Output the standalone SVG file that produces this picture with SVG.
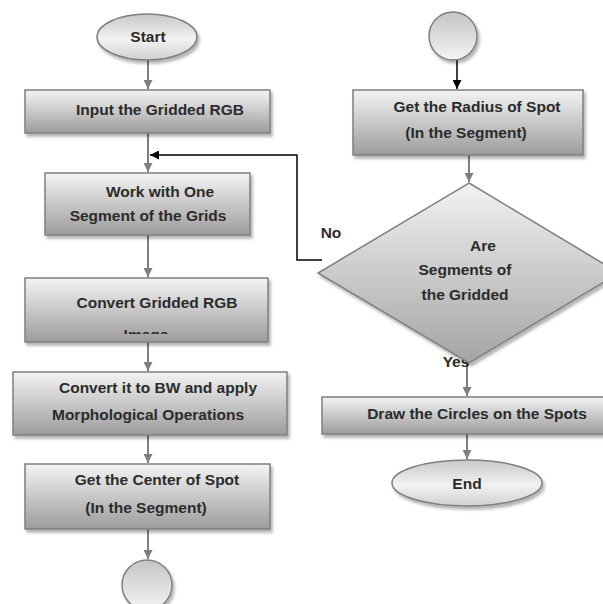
<svg xmlns="http://www.w3.org/2000/svg" width="603" height="604" viewBox="0 0 603 604">
<defs>
<linearGradient id="gBox" x1="0" y1="0" x2="0" y2="1">
<stop offset="0" stop-color="#f4f4f4"/>
<stop offset="1" stop-color="#9c9c9c"/>
</linearGradient>
<linearGradient id="gEll" x1="0" y1="0" x2="0" y2="1">
<stop offset="0" stop-color="#c8c8c8"/>
<stop offset="0.55" stop-color="#f2f2f2"/>
<stop offset="1" stop-color="#d0d0d0"/>
</linearGradient>
<linearGradient id="gCirc" x1="0" y1="0" x2="0" y2="1">
<stop offset="0" stop-color="#c4c4c4"/>
<stop offset="1" stop-color="#f4f4f4"/>
</linearGradient>
<linearGradient id="gDia" x1="0" y1="0" x2="0" y2="1">
<stop offset="0" stop-color="#f2f2f2"/>
<stop offset="1" stop-color="#a4a4a4"/>
</linearGradient>
<filter id="sh" x="-10%" y="-10%" width="130%" height="140%">
<feDropShadow dx="2" dy="3" stdDeviation="1.5" flood-color="#000" flood-opacity="0.3"/>
</filter>
<marker id="ag" viewBox="0 0 10 10" refX="10" refY="5" markerWidth="9" markerHeight="9" markerUnits="userSpaceOnUse" orient="auto">
<path d="M0,0 L10,5 L0,10 z" fill="#7f7f7f"/>
</marker>
<marker id="ab" viewBox="0 0 10 10" refX="10" refY="5" markerWidth="9" markerHeight="9" markerUnits="userSpaceOnUse" orient="auto">
<path d="M0,0 L10,5 L0,10 z" fill="#000"/>
</marker>
<clipPath id="clipImg"><rect x="25" y="278" width="243" height="56"/></clipPath>
</defs>
<style>
.box{fill:url(#gBox);stroke:#7f7f7f;stroke-width:1.5;filter:url(#sh)}
.ell{fill:url(#gEll);stroke:#7f7f7f;stroke-width:1.5;filter:url(#sh)}
.circ{fill:url(#gCirc);stroke:#7f7f7f;stroke-width:1.5;filter:url(#sh)}
.t{font-family:"Liberation Sans",Arial,sans-serif;font-size:15.5px;font-weight:bold;fill:#2b2b2b;text-anchor:middle}
.cg{stroke:#7f7f7f;stroke-width:2;fill:none;marker-end:url(#ag)}
.cb{stroke:#000;stroke-width:1.5;fill:none;marker-end:url(#ab)}
</style>

<g id="connectors">
<line class="cg" x1="148" y1="60" x2="148" y2="89"/>
<line class="cg" x1="148" y1="133" x2="148" y2="172"/>
<line class="cg" x1="148" y1="235" x2="148" y2="277"/>
<line class="cg" x1="148" y1="342" x2="148" y2="371"/>
<line class="cg" x1="148" y1="435" x2="148" y2="463"/>
<line class="cg" x1="148" y1="529" x2="148" y2="559"/>
<line class="cb" x1="457" y1="60" x2="457" y2="89"/>
<line class="cg" x1="469" y1="155" x2="469" y2="182"/>
<line class="cg" x1="467" y1="362" x2="467" y2="396"/>
<line class="cg" x1="467" y1="434" x2="467" y2="459"/>
<polyline class="cb" points="322,260 297,260 297,155 150,155"/>
</g>

<g id="start">
<ellipse class="ell" cx="147" cy="37" rx="50" ry="23"/>
<text class="t" x="148" y="42">Start</text>
</g>

<g id="input">
<rect class="box" x="25" y="90" width="245" height="43"/>
<text class="t" x="160" y="115">Input the Gridded RGB</text>
</g>

<g id="work">
<rect class="box" x="45" y="173" width="205" height="62"/>
<text class="t" x="160" y="197">Work with One</text>
<text class="t" x="148" y="221">Segment of the Grids</text>
</g>

<g id="convert">
<rect class="box" x="25" y="278" width="243" height="64"/>
<text class="t" x="157" y="308">Convert Gridded RGB</text>
<text class="t" x="146" y="340" clip-path="url(#clipImg)">Image</text>
</g>

<g id="bw">
<rect class="box" x="13" y="372" width="274" height="63"/>
<text class="t" x="158" y="393">Convert it to BW and apply</text>
<text class="t" x="148" y="420">Morphological Operations</text>
</g>

<g id="center">
<rect class="box" x="25" y="464" width="245" height="65"/>
<text class="t" x="157" y="485">Get the Center of Spot</text>
<text class="t" x="146" y="513">(In the Segment)</text>
</g>

<g id="connector-a">
<circle class="circ" cx="147" cy="585" r="25"/>
</g>

<g id="connector-b">
<circle class="circ" cx="453" cy="36" r="24"/>
</g>

<g id="radius">
<rect class="box" x="353" y="90" width="230" height="65"/>
<text class="t" x="477" y="112">Get the Radius of Spot</text>
<text class="t" x="466" y="138">(In the Segment)</text>
</g>

<g id="labels">
<text class="t" x="331" y="238">No</text>
<text class="t" x="456" y="367">Yes</text>
</g>

<g id="decision">
<polygon points="469,183 619,273 469,363 318,273" fill="url(#gDia)" stroke="#7f7f7f" stroke-width="1.5" filter="url(#sh)"/>
<text class="t" x="483" y="251">Are</text>
<text class="t" x="465" y="275">Segments of</text>
<text class="t" x="465" y="300">the Gridded</text>
</g>

<g id="draw">
<rect class="box" x="322" y="397" width="292" height="37"/>
<text class="t" x="477" y="419">Draw the Circles on the Spots</text>
</g>

<g id="end">
<ellipse class="ell" cx="467" cy="483" rx="75" ry="23"/>
<text class="t" x="467" y="489">End</text>
</g>
</svg>
